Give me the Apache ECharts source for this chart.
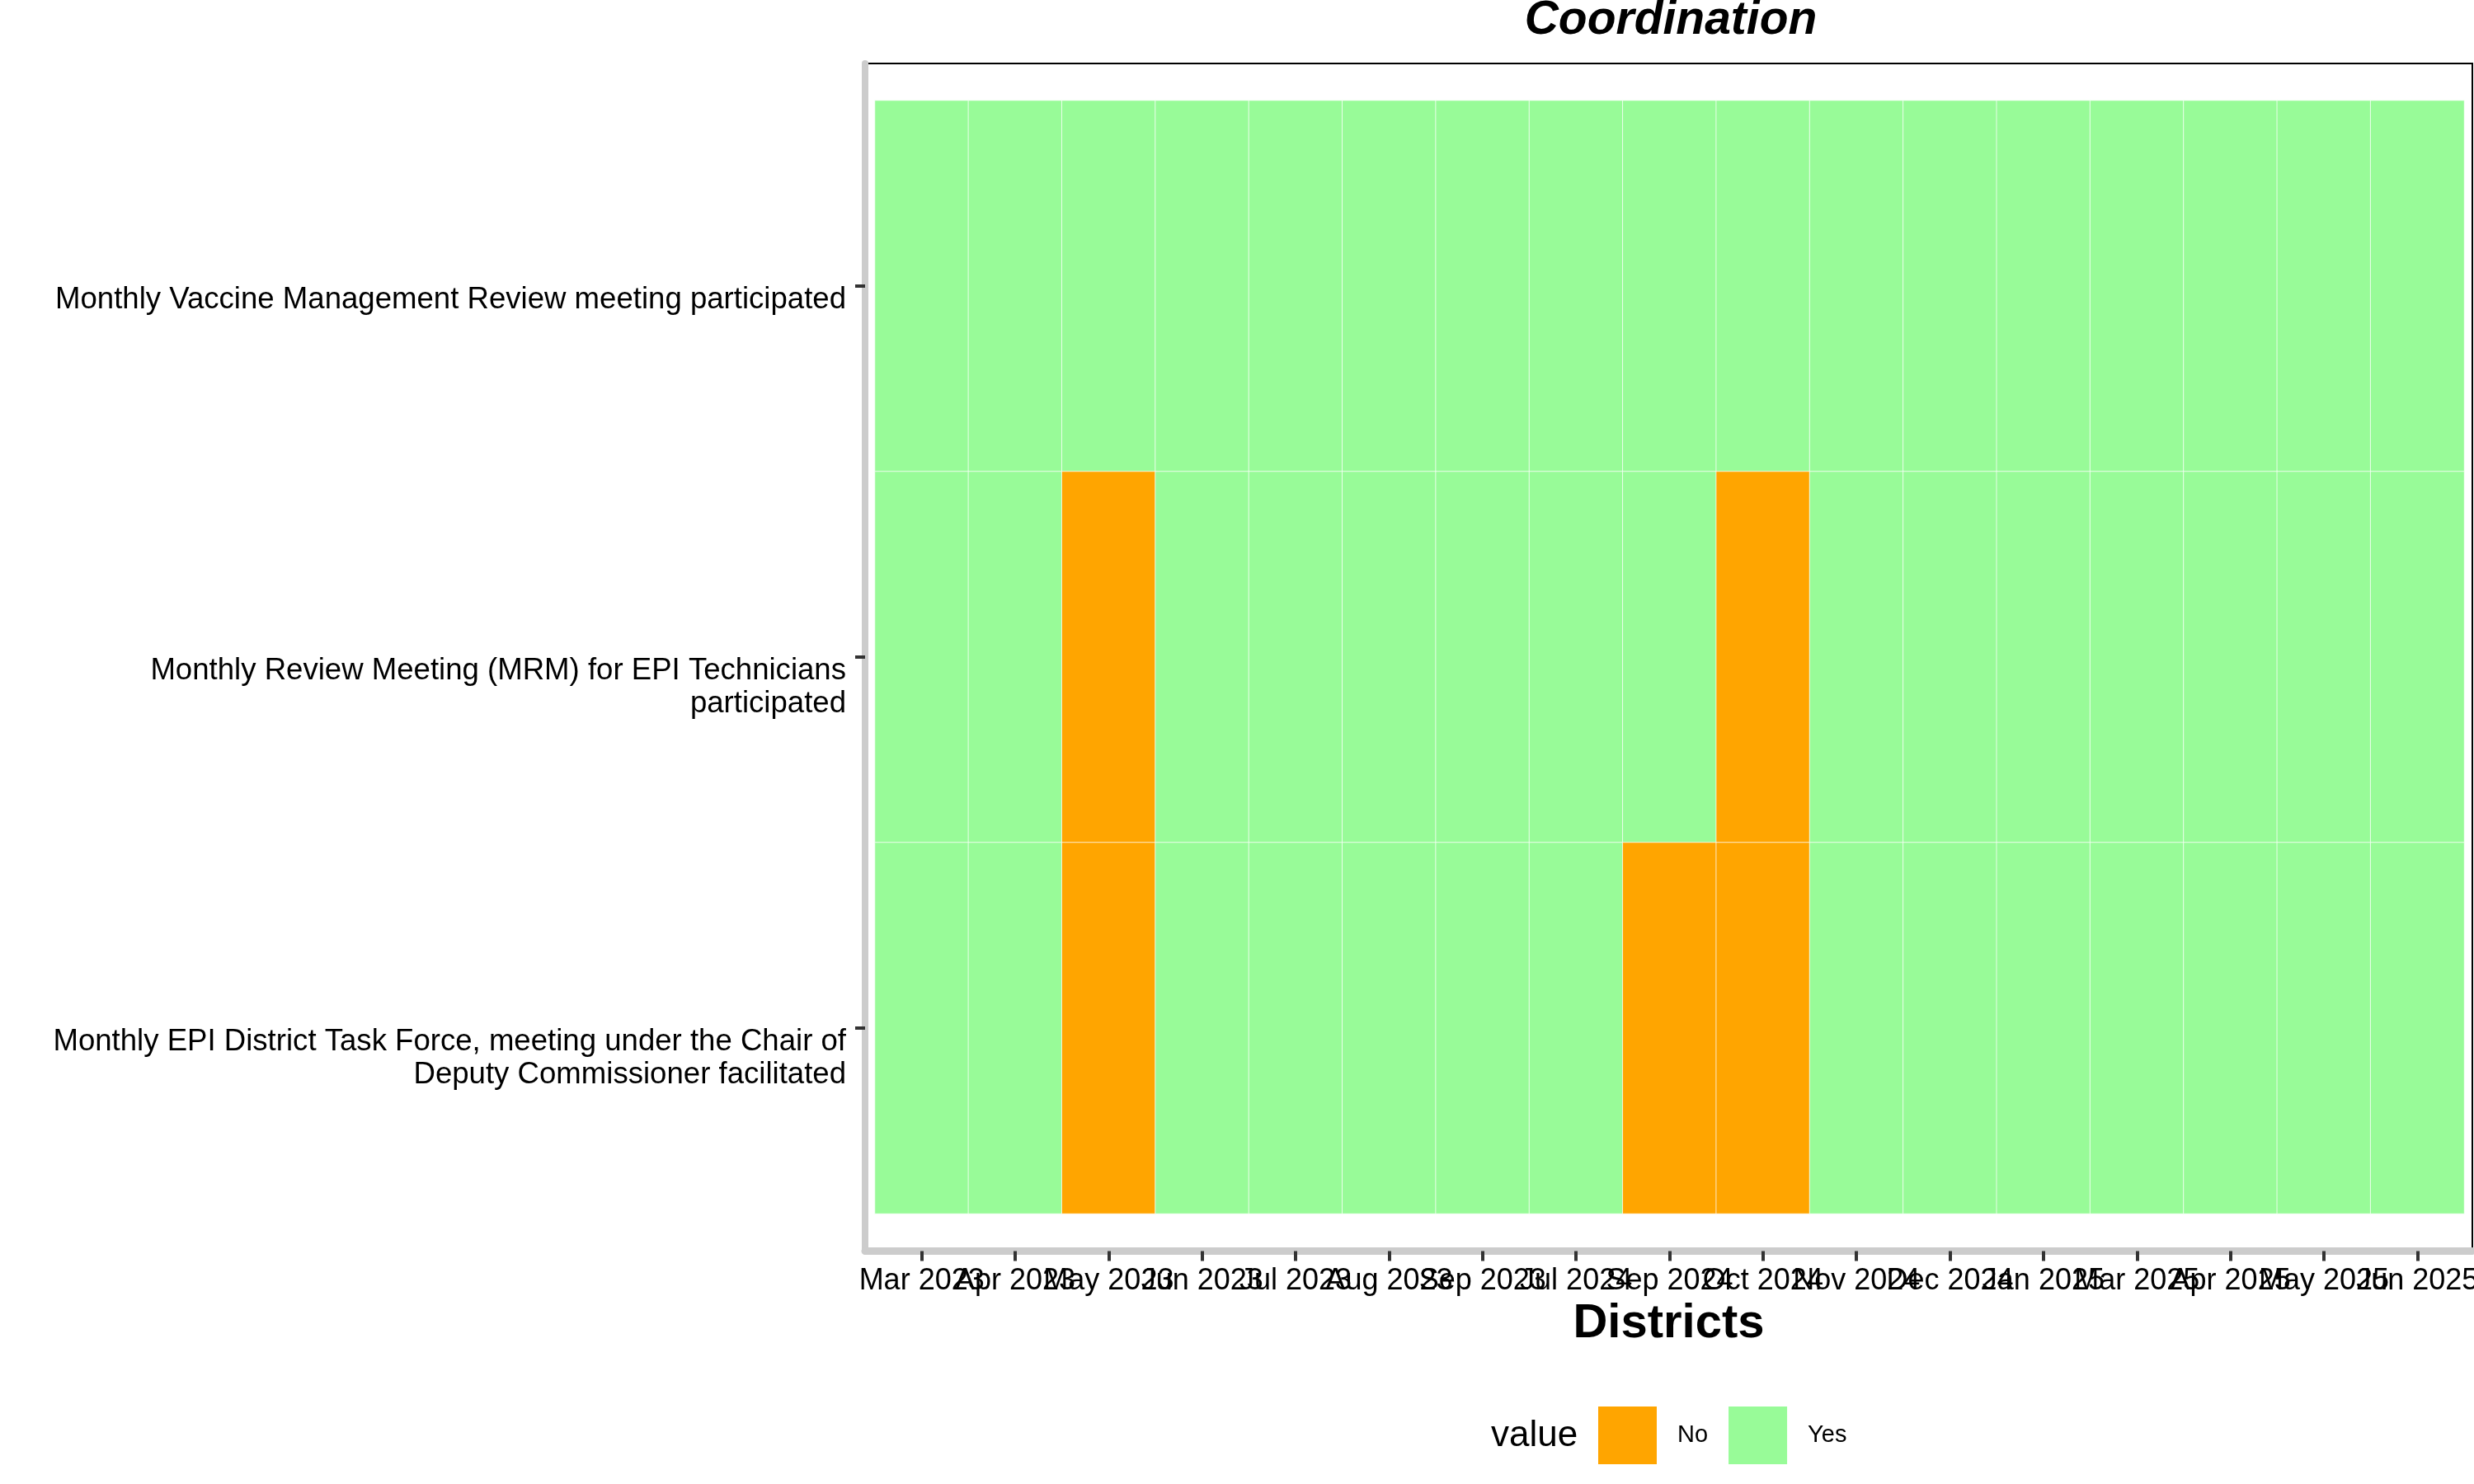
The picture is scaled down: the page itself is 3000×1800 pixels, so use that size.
<!DOCTYPE html>
<html>
<head>
<meta charset="utf-8">
<script src="https://cdn.jsdelivr.net/npm/echarts@6/dist/echarts.min.js"></script>
<style>
html,body{margin:0;padding:0;background:#fff;}
#chart{width:3000px;height:1800px;}
</style>
</head>
<body>
<div id="chart"></div>
<script>
// ---- data ----
const months = ['Mar 2023','Apr 2023','May 2023','Jun 2023','Jul 2023','Aug 2023','Sep 2023',
  'Jul 2024','Sep 2024','Oct 2024','Nov 2024','Dec 2024','Jan 2025','Mar 2025','Apr 2025','May 2025','Jun 2025'];

// indicators listed top to bottom
const indicators = [
  'Monthly Vaccine Management Review meeting participated',
  'Monthly Review Meeting (MRM) for EPI Technicians\nparticipated',
  'Monthly EPI District Task Force, meeting under the Chair of\nDeputy Commissioner facilitated'
];

const vaccineReview  = ['Yes','Yes','Yes','Yes','Yes','Yes','Yes','Yes','Yes','Yes','Yes','Yes','Yes','Yes','Yes','Yes','Yes'];
const mrmTechnicians = ['Yes','Yes','No','Yes','Yes','Yes','Yes','Yes','Yes','No','Yes','Yes','Yes','Yes','Yes','Yes','Yes'];
const taskForce      = ['Yes','Yes','No','Yes','Yes','Yes','Yes','Yes','No','No','Yes','Yes','Yes','Yes','Yes','Yes','Yes'];

const statusRows = [vaccineReview, mrmTechnicians, taskForce];
const valueLevels = ['No','Yes'];
const levelColors = ['#FFA500','#98FB98'];

const FONT = '"Liberation Sans", Arial, Helvetica, sans-serif';

const heatData = [];
statusRows.forEach((row, r) => {
  row.forEach((v, m) => heatData.push([m, r, valueLevels.indexOf(v)]));
});

const chart = echarts.init(document.getElementById('chart'), null, {renderer: 'canvas'});
chart.setOption({
  animation: false,
  backgroundColor: '#ffffff',
  title: [
    {
      text: 'Coordination', left: 2026, top: -3, textAlign: 'center', padding: 0,
      textStyle: {fontFamily: FONT, fontSize: 57, fontWeight: 'bold', fontStyle: 'italic', color: '#000', lineHeight: 57}
    },
    {
      text: 'value', left: 1808, top: 1720, padding: 0,
      textStyle: {fontFamily: FONT, fontSize: 44, fontWeight: 'normal', color: '#000', lineHeight: 44}
    }
  ],
  grid: [
    {left: 1061, right: 12, top: 122, bottom: 328, show: false, outerBoundsMode: 'none', containLabel: false},
    {left: 1049, right: 2, top: 77, bottom: 282.5, show: true, borderColor: '#000', borderWidth: 2,
     backgroundColor: 'transparent', outerBoundsMode: 'none', containLabel: false}
  ],
  xAxis: [
    {
      type: 'category', gridIndex: 0, data: months, offset: 45.5,
      axisLine: {show: false},
      axisTick: {show: true, alignWithLabel: true, length: 12, lineStyle: {color: '#333', width: 4}},
      axisLabel: {interval: 0, margin: 17, fontFamily: FONT, fontSize: 36, lineHeight: 40, color: '#000', hideOverlap: false},
      splitLine: {show: false}
    },
    {
      type: 'value', gridIndex: 1, min: 0, max: 1,
      name: 'Districts', nameLocation: 'middle', nameGap: 59,
      nameTextStyle: {fontFamily: FONT, fontSize: 58, fontWeight: 'bold', color: '#000', lineHeight: 58},
      axisLine: {show: true, lineStyle: {color: '#CCCCCC', width: 9}},
      axisTick: {show: false}, axisLabel: {show: false}, splitLine: {show: false}
    }
  ],
  yAxis: [
    {
      type: 'category', gridIndex: 0, data: indicators, inverse: true, offset: 12,
      axisLine: {show: false},
      axisTick: {show: true, alignWithLabel: true, length: 12, lineStyle: {color: '#333', width: 4}},
      axisLabel: {
        interval: 0, margin: 23, verticalAlign: 'top', align: 'right', hideOverlap: false,
        formatter: function (v) {
          return v.split('\n').map((l, i) => '{' + (i === 0 ? 'a' : 'b') + '|' + l + '}').join('\n');
        },
        rich: {
          a: {fontFamily: FONT, fontSize: 36.6, lineHeight: 33, color: '#000', align: 'right'},
          b: {fontFamily: FONT, fontSize: 36.6, lineHeight: 47, color: '#000', align: 'right'}
        }
      },
      splitLine: {show: false}
    },
    {
      type: 'value', gridIndex: 1, min: 0, max: 1,
      axisLine: {show: true, lineStyle: {color: '#CCCCCC', width: 8}},
      axisTick: {show: false}, axisLabel: {show: false}, splitLine: {show: false}
    }
  ],
  visualMap: {
    type: 'piecewise', dimension: 2, seriesIndex: 0,
    orient: 'horizontal', left: 1938, top: 1706, padding: 0,
    itemWidth: 71, itemHeight: 70, itemGap: 25, textGap: 25, itemSymbol: 'rect',
    selectedMode: false, hoverLink: false,
    pieces: valueLevels.map((lab, i) => ({value: i, label: lab, color: levelColors[i]})),
    textStyle: {fontFamily: FONT, fontSize: 29, color: '#000'}
  },
  series: [{
    type: 'heatmap', xAxisIndex: 0, yAxisIndex: 0,
    data: heatData,
    itemStyle: {borderColor: 'rgba(255,255,255,0.75)', borderWidth: 1},
    emphasis: {disabled: true},
    label: {show: false}
  }]
});
</script>
</body>
</html>
